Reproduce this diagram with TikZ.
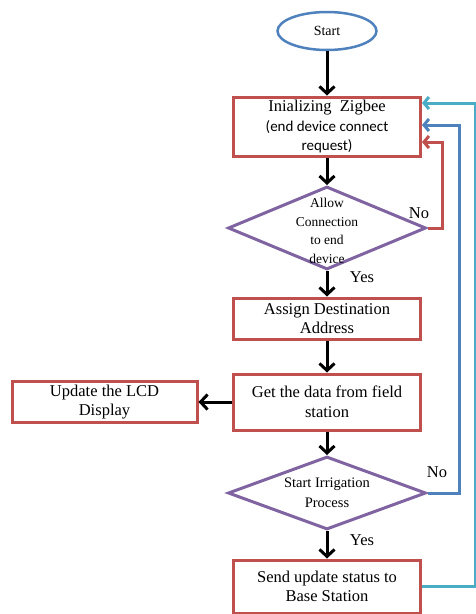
\documentclass[tikz,border=0pt]{standalone}
\usepackage{fontspec}
\setmainfont{Liberation Serif}
\newfontfamily\timesfont{Liberation Serif}
\newfontfamily\calibri{Carlito}
\usetikzlibrary{shapes.geometric,arrows.meta}
\definecolor{boxred}{RGB}{192,80,77}
\definecolor{decpurple}{RGB}{128,100,162}
\definecolor{loopblue}{RGB}{79,129,189}
\definecolor{loopcyan}{RGB}{75,172,198}
\newcommand{\sansline}[1]{{\calibri\fontsize{15}{18.5}\selectfont #1}}
\begin{document}
\begin{tikzpicture}[x=1pt,y=-1pt,
    box/.style={draw=boxred,line width=3pt,fill=white,align=center,inner sep=0pt,
        font=\timesfont\fontsize{16.5}{19.5}\selectfont},
    dec/.style={diamond,draw=decpurple,line width=3pt,inner sep=0pt,minimum width=198pt},
    dectext/.style={align=center,inner sep=0pt},
    flow/.style={line width=3pt,-{Straight Barb[length=7pt,width=15pt]}},
    back/.style={line width=3pt,-{Straight Barb[length=5pt,width=12pt]}},
    answer/.style={font=\timesfont\fontsize{16.5}{19}\selectfont,inner sep=0pt}]
    \useasboundingbox (0,0) rectangle (475,614);
    %% blocks
    \node[ellipse,draw=loopblue,line width=2.5pt,minimum width=99pt,minimum height=38pt,
        font=\timesfont\fontsize{14}{16}\selectfont] (start) at (327,31) {Start};
    \node[box,minimum width=187pt,minimum height=59pt] (init) at (327,126.5)
        {Inializing\ \ Zigbee\\\sansline{(end device connect}\\\sansline{request)}};
    \node[dec,minimum height=83pt] (d1) at (327,228) {};
    \node[dectext,font=\timesfont\fontsize{13.5}{18.7}\selectfont] (d1text) at (327,231)
        {Allow\\Connection\\to end\\device};
    \node[box,minimum width=187pt,minimum height=41pt] (assign) at (327,318.5)
        {Assign Destination\\Address};
    \node[box,minimum width=187pt,minimum height=56pt] (data) at (327,402)
        {Get the data from field\\station};
    \node[box,minimum width=185pt,minimum height=41pt] (lcd) at (104.5,402)
        {Update the LCD\\Display};
    \node[dec,minimum height=73pt] (d2) at (327,493) {};
    \node[dectext,font=\timesfont\fontsize{14.5}{20}\selectfont] (d2text) at (327,493)
        {Start Irrigation\\Process};
    \node[box,minimum width=187pt,minimum height=53pt] (send) at (327,586.5)
        {Send update status to\\Base Station};
    %% main flow
    \draw[flow] (start) -- (init);
    \draw[flow] (init) -- (d1);
    \draw[flow] (d1) -- (assign);
    \draw[flow] (assign) -- (data);
    \draw[flow] (data) -- (lcd);
    \draw[flow] (data) -- (d2);
    \draw[flow] (d2) -- (send);
    %% loops back
    \draw[back,boxred] (d1.east) -- ++(15,0) |- ([yshift=-15.5pt]init.east);
    \draw[back,loopblue] (d2.east) -- ++(32,0) |- ([yshift=1.5pt]init.east);
    \draw[back,loopcyan] (send.east) -- ++(53,0) |- ([yshift=23.5pt]init.east);
    %% answers
    \node[answer] (no1) at (419,213) {No};
    \node[answer] (yes1) at (362,277) {Yes};
    \node[answer] (no2) at (437,472) {No};
    \node[answer] (yes2) at (362,540) {Yes};
\end{tikzpicture}
\end{document}
